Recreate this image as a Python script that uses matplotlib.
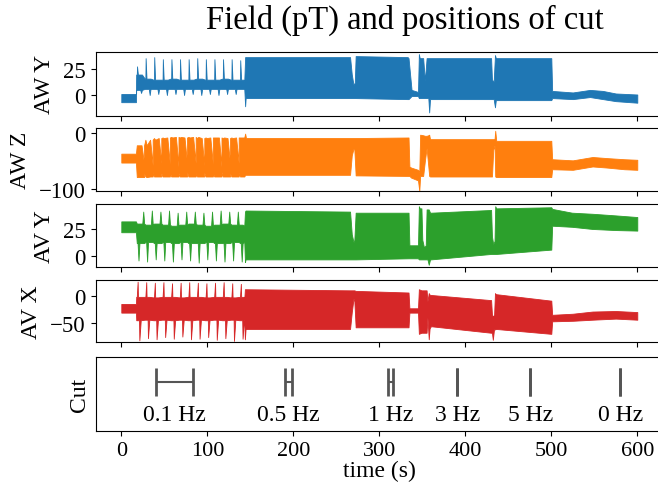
import matplotlib.pyplot as plt
import numpy as np

plt.rcParams["font.family"] = ["Liberation Serif", "DejaVu Serif"]

# time axis shared by the four field channels (s)
pre_t = [0, 17]
cycle_t = [18, 28, 38, 48, 58, 68, 78, 88, 98, 108, 118, 128, 138]  # 0.1 Hz cycle onsets

# --- AW Y (pT) ---
awy_pre = (1, -7)
awy_body_hi = [20, 16, 15, 15, 16, 15, 15, 16, 15, 15, 16, 15, 15]
awy_body_lo = [5, 6, 6, 6, 6, 6, 6, 6, 6, 6, 6, 6, 6]
awy_up = [28, 36, 37, 35, 35, 35, 35, 36, 35, 35, 35, 35, 34]
awy_dn = [2, 0, 1, 0, 1, 0, 1, 0, 1, 0, 1, 1, 2]
awy_t = [143, 144, 144.6, 145.5, 266, 268, 270, 271.5, 272.5, 333, 334, 337.5, 345, 346, 347,
         351, 353, 355, 357, 358, 359, 430, 431, 433, 434.5, 435.5, 500, 501, 525, 545, 560, 575, 600]
awy_hi = [14, 37, 37, 37, 37, 20, 10, 12, 38, 37, 36, 5, 3, 40, 36,
          36, 14, 36, 36, 36, 36, 36, 15, 13, 39, 36, 36, 4, 2.5, 5, 4, 1.5, 0.5]
awy_lo = [6, -11, -3, -3, -3, -3, -3, -3, -3, -4, -4, -1, -1, -3, -3,
          -3, -3, -3, -3, -17, -4, -4, -4, -4, -12, -5, -5, -3, -4, -2, -4, -6, -7.5]

# --- AW Z (pT) ---
awz_pre = (-37, -53)
awz_body_hi = [-22, -12, -9, -8, -7, -8, -7, -9, -8, -8, -9, -8, -8]
awz_body_lo = [-79, -78, -78, -78, -78, -78, -78, -78, -78, -78, -78, -78, -78]
awz_up = [-55, -58, -54, -56, -60, -55, -54, -58, -56, -60, -55, -54, -56]
awz_dn = [-72, -70, -72, -71, -72, -70, -72, -71, -72, -70, -72, -71, -72]
awz_t = [143, 144, 145, 266, 268, 270, 271, 272.5, 334, 335, 337, 345, 346.5, 347.5, 351, 353,
         355, 357, 358, 359, 430, 431, 432.5, 434, 434.8, 436, 500, 501, 525, 548, 565, 585, 600]
awz_hi = [-8, -1, -9, -9, -9, -9, -9, -9, -8, -60, -62, -66, -70, -3, -4, -5,
          -5, -4, -3, -11, -11, -11, -11, -11, 4, -14, -14, -47, -49, -43, -45, -47, -48]
awz_lo = [-78, -75, -75, -75, -40, -28, -30, -76, -77, -77, -80, -85, -104, -77, -77, -50,
          -27, -60, -77, -78, -78, -78, -30, -22, -78, -79, -79, -65, -66, -60, -62, -65, -66]

# --- AV Y (pT) ---
avy_pre = (32, 22)
avy_body_hi = [30, 29, 30, 29, 28, 29, 30, 29, 28, 29, 30, 29, 29]
avy_body_lo = [12, 13, 12, 13, 12, 13, 12, 12, 13, 12, 12, 13, 12]
avy_up = [41, 42, 41, 42, 40, 41, 41, 40, 41, 42, 41, 41, 41]
avy_dn = [-4, -5, -3, -4, -5, -3, -4, -6, -3, -4, -5, -4, -5]
avy_t = [143, 143.8, 144.5, 266, 268, 270, 271, 272.5, 334, 335, 345, 346, 347, 349, 350, 352, 354,
         355, 356, 357.5, 359, 360, 430, 431, 432.5, 434, 434.8, 436, 500, 501, 524, 548, 575, 600]
avy_hi = [28, 41, 42, 41, 20, 13, 15, 40, 40, 10, 10, 46, 44, 44, 15, 8, 10,
          43, 43, 43, 40, 40, 42.5, 18, 11, 14, 46, 44, 45, 43.5, 40, 39, 37.5, 36]
avy_lo = [13, -5.5, -3, -3, -3, -3, -3, -3, -2, -2, -2, -3, -3, -3, -3, -3, -3,
          -3, -3, -8, -3, -3, 2, 2, 2, 2, 2, 2, 6, 28, 27, 25, 24, 23.5]

# --- AV X (pT) ---
avx_pre = (-15, -31)
avx_body_hi = [-2, -2, -3, -2, -2, -3, -2, -2, -3, -2, -2, -3, -2]
avx_body_lo = [-45, -44, -45, -44, -45, -44, -45, -44, -45, -44, -45, -44, -45]
avx_up = [26, 25, 24, 25, 23, 24, 25, 24, 23, 24, 25, 23, 22]
avx_dn = [-82, -78, -80, -76, -79, -75, -80, -79, -76, -81, -78, -83, -79]
avx_t = [143, 143.7, 144.5, 266, 268, 270, 271, 272.5, 334, 335, 345, 346, 349, 355, 356, 357.5,
         358.5, 360, 430, 431, 432, 433.5, 434.5, 435.5, 500, 501, 525, 548, 575, 600]
avx_hi = [-6, 12, 12, 10, 10, 10, 10, 9, 6, -23, -23, 12, 10, 10, -10, 5,
          2, 1.5, -8, -35, -38, -35, 5, 3, -9, -35, -33, -29, -28, -30]
avx_lo = [-45, -80, -61, -61, -30, -5, -10, -58, -58, -31, -31, -70, -68, -68, -40, -80,
          -60, -56, -68, -68, -81, -60, -62, -61, -70, -47, -46, -44, -42, -44]

# --- cut positions (s) ---
cut_start = [40, 190.5, 310.5, 390.5, 475.5, 580]
cut_end = [83, 199, 315.5, 390.5, 475.5, 580]
cut_labels = ["0.1 Hz", "0.5 Hz", "1 Hz", "3 Hz", "5 Hz", "0 Hz"]


def envelope(pre, body_hi, body_lo, up, up_at, dn, dn_at, w, post_t, post_hi, post_lo):
    knots = [(pre_t[0], pre[0], pre[1]), (pre_t[1], pre[0], pre[1])]
    cyc = []
    for k, c in enumerate(cycle_t):
        bh, bl = body_hi[k], body_lo[k]
        cyc += [(c, bh, bl),
                (c + up_at - w, bh, bl), (c + up_at, up[k], bl), (c + up_at + w, bh, bl),
                (c + dn_at - w, bh, bl), (c + dn_at, bh, dn[k]), (c + dn_at + w, bh, bl)]
    cyc = sorted(p for p in cyc if pre_t[1] < p[0] < post_t[0] - 0.3)
    knots += cyc + list(zip(post_t, post_hi, post_lo))
    t, hi, lo = (np.array(a, dtype=float) for a in zip(*knots))
    return t, hi, lo


channels = [
    ("AW Y", "tab:blue", (-20, 42), [0, 25],
     envelope(awy_pre, awy_body_hi, awy_body_lo, awy_up, 0.3, awy_dn, 5, 1.0, awy_t, awy_hi, awy_lo)),
    ("AW Z", "tab:orange", (-104, 9), [-100, 0],
     envelope(awz_pre, awz_body_hi, awz_body_lo, awz_up, 8.5, awz_dn, 8.5, 3.0, awz_t, awz_hi, awz_lo)),
    ("AV Y", "tab:green", (-10, 48), [0, 25],
     envelope(avy_pre, avy_body_hi, avy_body_lo, avy_up, 7.5, avy_dn, 2, 1.1, avy_t, avy_hi, avy_lo)),
    ("AV X", "tab:red", (-85, 29), [-50, 0],
     envelope(avx_pre, avx_body_hi, avx_body_lo, avx_up, 1, avx_dn, 3, 1.6, avx_t, avx_hi, avx_lo)),
]

W, H = 658, 485
fig = plt.figure(figsize=(W / 100, H / 100), dpi=100)
left, right = 95.5, 663.1
rows = [(53, 116.5), (129, 192), (205, 268), (281, 343), (358, 432)]
axes = []
for top, bot in rows:
    ax = fig.add_axes([left / W, 1 - bot / H, (right - left) / W, (bot - top) / H],
                      sharex=axes[0] if axes else None)
    axes.append(ax)

for ax, (label, color, ylim, yticks, (t, hi, lo)) in zip(axes, channels):
    ax.fill_between(t, lo, hi, facecolor=color, edgecolor=color, linewidth=0.6)
    ax.set_ylim(*ylim)
    ax.set_yticks(yticks)
    ax.set_ylabel(label, fontsize=17, labelpad=6)
    ax.tick_params(labelbottom=False, labelsize=16.5)

cax = axes[4]
cs, ce = np.array(cut_start), np.array(cut_end)
mid = (cs + ce) / 2
cax.errorbar(mid, np.full(len(mid), 0.66), xerr=(ce - cs) / 2, fmt="none",
             ecolor="#555555", elinewidth=1.5, capsize=10, capthick=2)
for x, s in zip(mid, cut_labels):
    cax.text(x, 0.22, s, ha="center", va="center", fontsize=17)
cax.set_ylim(0, 1)
cax.set_yticks([])
cax.set_ylabel("Cut", fontsize=17)
cax.set_xlim(-30, 630)
cax.set_xticks([0, 100, 200, 300, 400, 500, 600])
cax.tick_params(labelsize=16)
cax.set_xlabel("time (s)", fontsize=17, labelpad=0)

fig.text(405 / W, 1 - 20 / H, "Field (pT) and positions of cut", ha="center", va="center",
         fontsize=23.5)

fig.savefig("out.png", dpi=100)
